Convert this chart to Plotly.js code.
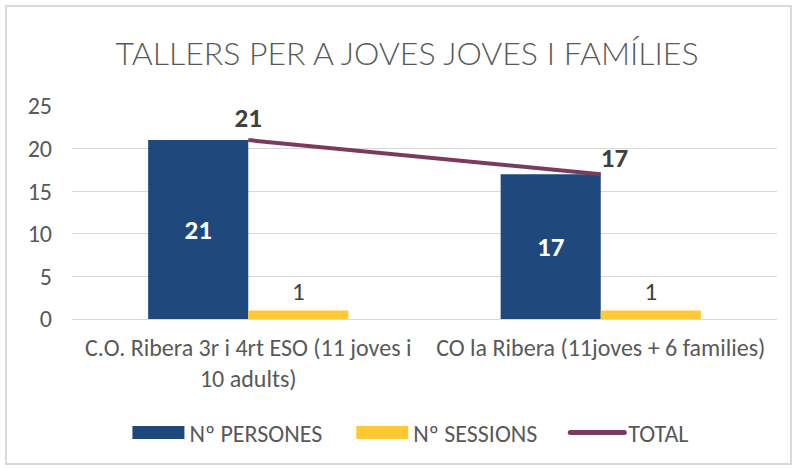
<!DOCTYPE html>
<html>
<head>
<meta charset="utf-8">
<script src="https://cdn.plot.ly/plotly-3.0.1.min.js"></script>
<style>
html,body{margin:0;padding:0;background:#fff;}
#wrap{position:relative;width:795px;height:468px;}
#chart{position:absolute;left:0;top:0;width:795px;height:468px;}
#frame{position:absolute;left:5px;top:5px;width:783px;height:456px;border:2px solid #d9d9d9;pointer-events:none;}
</style>
</head>
<body>
<div id="wrap"><div id="chart"></div><div id="frame"></div></div>
<script>
const categories = ["C.O. Ribera 3r i 4rt ESO (11 joves i<br>10 adults)", "CO la Ribera (11joves + 6 families)"];
const persones = [21, 17];
const sessions = [1, 1];
const total = [21, 17];
const seriesNames = ["Nº PERSONES", "Nº SESSIONS", "TOTAL"];

const FONT = "Carlito, 'Open Sans', sans-serif";
const GREY = "#595959";

const traces = [
  {
    type: "bar", name: seriesNames[0], x: categories, y: persones,
    marker: {color: "#1F497D"},
    text: persones.map(String), textposition: "inside", insidetextanchor: "middle",
    textfont: {family: FONT, size: 27, color: "#ffffff", weight: "bold"},
    hoverinfo: "none"
  },
  {
    type: "bar", name: seriesNames[1], x: categories, y: sessions,
    marker: {color: "#FFC933"},
    text: sessions.map(String), textposition: "outside",
    textfont: {family: FONT, size: 25, color: "#404040"},
    cliponaxis: false, hoverinfo: "none"
  },
  {
    type: "scatter", mode: "lines+markers+text", name: seriesNames[2], x: categories, y: total,
    line: {color: "#7B3B5F", width: 4},
    marker: {size: [8, 0], color: "rgba(0,0,0,0)", line: {width: 0, color: "rgba(0,0,0,0)"}},
    text: total.map(String), textposition: ["top center", "top right"],
    textfont: {family: FONT, size: 27, color: "#404040", weight: "bold"},
    cliponaxis: false, hoverinfo: "none"
  }
];

const layout = {
  width: 795, height: 468,
  margin: {l: 72, r: 18, t: 106, b: 149},
  paper_bgcolor: "#ffffff", plot_bgcolor: "#ffffff",
  font: {family: FONT, color: GREY, size: 24},
  title: {text: "TALLERS PER A JOVES JOVES I FAMÍLIES",
          font: {family: "Lato, Carlito, sans-serif", size: 32, color: "#595959", weight: 300},
          x: 0.512, xanchor: "center", y: 0.884, yanchor: "middle"},
  barmode: "group", bargap: 0.432, bargroupgap: 0,
  showlegend: true,
  legend: {orientation: "h", x: 0.463, xanchor: "center", y: -0.535, yanchor: "middle",
           font: {family: FONT, size: 24, color: GREY}, traceorder: "normal", itemwidth: 76},
  xaxis: {type: "category", showgrid: false, showline: false, ticks: "", zeroline: false,
          tickfont: {family: FONT, size: 24, color: GREY}, ticklabelstandoff: 12, fixedrange: true},
  yaxis: {range: [0, 25], dtick: 5, tick0: 0, showgrid: true, gridcolor: "#d9d9d9", gridwidth: 1,
          zeroline: true, zerolinecolor: "#d9d9d9", zerolinewidth: 1, showline: false, ticks: "",
          tickfont: {family: FONT, size: 24, color: GREY}, ticklabelstandoff: 19, fixedrange: true}
};

function toLocal(el, x, y) {
  const svg = el.ownerSVGElement;
  const pt = svg.createSVGPoint();
  pt.x = x; pt.y = y;
  return pt.matrixTransform(el.getScreenCTM().inverse());
}

Plotly.newPlot("chart", traces, layout, {displayModeBar: false, staticPlot: true}).then(gd => {
  // Excel-like legend swatches: wide rectangles / long line, just left of the text
  gd.querySelectorAll(".legend .traces").forEach(g => {
    const txt = g.querySelector("text.legendtext");
    if (!txt) return;
    const tr = txt.getBoundingClientRect();
    const left = tr.left;
    g.querySelectorAll(".legendpoints path").forEach(p => {
      const d = p.getAttribute("d") || "";
      if (d.indexOf("M6,6H-6V-6H6Z") === 0) {
        const pr = p.getBoundingClientRect();
        const cy = pr.top + pr.height / 2;
        const a = toLocal(p, left - 57, cy - 6.5);
        const b = toLocal(p, left - 5, cy + 6.5);
        p.setAttribute("d", `M${a.x},${a.y}H${b.x}V${b.y}H${a.x}Z`);
      } else if (p.classList.contains("scatterpts")) {
        p.style.display = "none";
      }
    });
    g.querySelectorAll(".legendlines path").forEach(p => {
      const pr = p.getBoundingClientRect();
      const cy = pr.top + pr.height / 2;
      const a = toLocal(p, left - 58, cy);
      const b = toLocal(p, left - 4, cy);
      p.setAttribute("d", `M${a.x},${a.y}L${b.x},${b.y}`);
      p.style.strokeWidth = "5px";
      p.style.strokeLinecap = "round";
    });
  });
});
</script>
</body>
</html>
